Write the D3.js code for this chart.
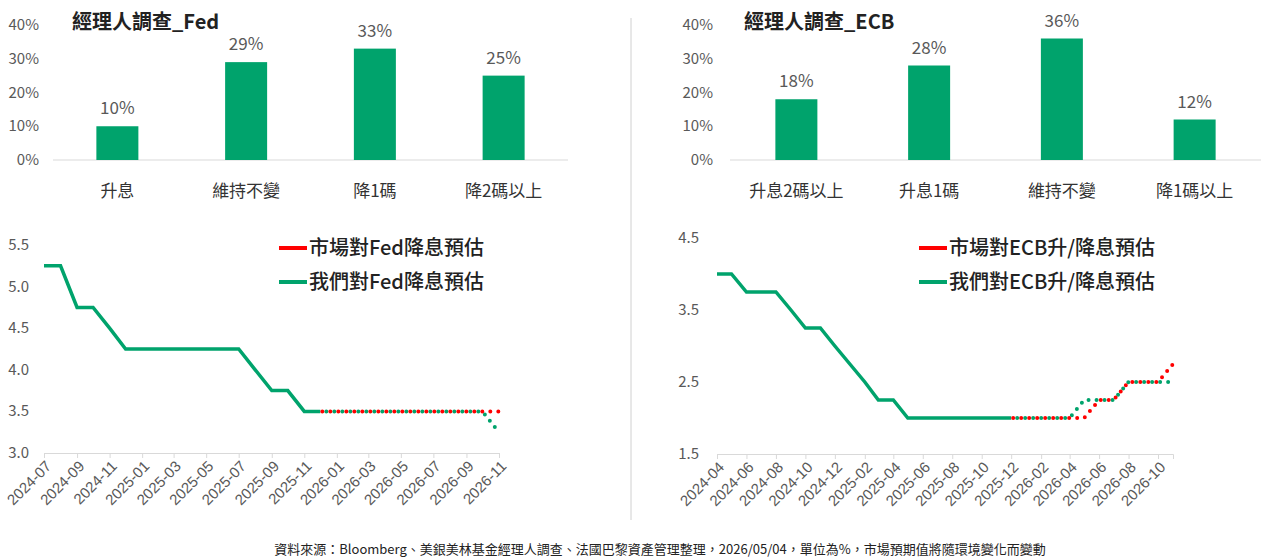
<!DOCTYPE html>
<html><head><meta charset="utf-8">
<script src="https://cdn.jsdelivr.net/npm/d3@7"></script>
<style>
body { margin: 0; background: #fff; font-family: "Noto Sans CJK TC", "Noto Sans", sans-serif; }
text { fill: #404040; }
</style></head>
<body><svg id="c" width="1264" height="559"></svg>
<script>
var fedCats = ['升息', '維持不變', '降1碼', '降2碼以上'];
var fedVals = [10, 29, 33, 25];
var ecbCats = ['升息2碼以上', '升息1碼', '維持不變', '降1碼以上'];
var ecbVals = [18, 28, 36, 12];
var pctTicks = [0, 10, 20, 30, 40];

var fedMonths = ['2024-07','2024-08','2024-09','2024-10','2024-11','2024-12','2025-01','2025-02','2025-03','2025-04','2025-05','2025-06','2025-07','2025-08','2025-09','2025-10','2025-11','2025-12'];
var fedActual = [5.25,5.25,4.75,4.75,4.5,4.25,4.25,4.25,4.25,4.25,4.25,4.25,4.25,4.0,3.75,3.75,3.5,3.5];
var fedFcMonths = ['2025-12','2026-01','2026-02','2026-03','2026-04','2026-05','2026-06','2026-07','2026-08','2026-09','2026-10','2026-11'];
var fedMarket = [3.5,3.5,3.5,3.5,3.5,3.5,3.5,3.5,3.5,3.5,3.5,3.5];
var fedOurs   = [3.5,3.5,3.5,3.5,3.5,3.5,3.5,3.5,3.5,3.5,3.5,3.25];
var fedTicks = [3.0, 3.5, 4.0, 4.5, 5.0, 5.5];

var ecbMonths = ['2024-04','2024-05','2024-06','2024-07','2024-08','2024-09','2024-10','2024-11','2024-12','2025-01','2025-02','2025-03','2025-04','2025-05','2025-06','2025-07','2025-08','2025-09','2025-10','2025-11','2025-12'];
var ecbActual = [4.0,4.0,3.75,3.75,3.75,3.5,3.25,3.25,3.0,2.75,2.5,2.25,2.25,2.0,2.0,2.0,2.0,2.0,2.0,2.0,2.0];
var ecbFcMonths = ['2025-12','2026-01','2026-02','2026-03','2026-04','2026-05','2026-06','2026-07','2026-08','2026-09','2026-10','2026-11'];
var ecbMarket = [2.0,2.0,2.0,2.0,2.0,2.0,2.25,2.25,2.5,2.5,2.5,2.75];
var ecbOurs   = [2.0,2.0,2.0,2.0,2.0,2.25,2.25,2.25,2.5,2.5,2.5,2.5];
var ecbTicks = [1.5, 2.5, 3.5, 4.5];

var GREEN = '#00a36c', RED = '#ff0000', GREY = '#595959';
var svg = d3.select('#c');
var parse = d3.timeParse('%Y-%m');

svg.append('line').attr('x1', 631).attr('x2', 631).attr('y1', 18).attr('y2', 520)
   .attr('stroke', '#d0d0d0');

function bars(cats, vals, title, x0, x1, labelX, titleX) {
    var x = d3.scaleBand().domain(cats).range([x0, x1]);
    var y = d3.scaleLinear().domain([0, 40]).range([160, 25]);
    var g = svg.append('g');
    g.append('text').attr('x', titleX).attr('y', 29).attr('font-size', 20)
     .attr('font-weight', 'bold').style('fill', '#222').text(title);
    g.selectAll('.t').data(pctTicks).enter().append('text')
     .attr('x', labelX).attr('y', function (d) { return y(d) + 5; })
     .attr('text-anchor', 'end').attr('font-size', 15).style('fill', GREY)
     .text(function (d) { return d + '%'; });
    g.append('line').attr('x1', x0).attr('x2', x1).attr('y1', y(0)).attr('y2', y(0))
     .attr('stroke', '#d9d9d9');
    g.selectAll('rect').data(vals).enter().append('rect')
     .attr('x', function (d, i) { return x(cats[i]) + x.bandwidth() / 2 - 21; })
     .attr('y', function (d) { return y(d); })
     .attr('width', 42).attr('height', function (d) { return y(0) - y(d); })
     .attr('fill', GREEN);
    g.selectAll('.v').data(vals).enter().append('text')
     .attr('x', function (d, i) { return x(cats[i]) + x.bandwidth() / 2; })
     .attr('y', function (d) { return y(d) - 12; })
     .attr('text-anchor', 'middle').attr('font-size', 17).style('fill', GREY)
     .text(function (d) { return d + '%'; });
    g.selectAll('.c').data(cats).enter().append('text')
     .attr('x', function (d) { return x(d) + x.bandwidth() / 2; })
     .attr('y', 197).attr('text-anchor', 'middle').attr('font-size', 17).style('fill', '#333')
     .text(function (d) { return d; });
}

bars(fedCats, fedVals, '經理人調查_Fed', 53, 568, 39, 72);
bars(ecbCats, ecbVals, '經理人調查_ECB', 730, 1261, 713, 744);

function lines(opt) {
    var x = d3.scaleTime().domain([parse(opt.start), parse(opt.end)]).range([opt.x0, opt.x1]);
    var y = d3.scaleLinear().domain(opt.ydom).range([opt.yb, opt.yt]);
    var g = svg.append('g');
    g.selectAll('.yt').data(opt.yticks).enter().append('text')
     .attr('x', opt.ylab).attr('y', function (d) { return y(d) + 5; })
     .attr('text-anchor', 'end').attr('font-size', 15).style('fill', GREY)
     .text(function (d) { return d.toFixed(1); });
    var tv = d3.timeMonth.range(parse(opt.start), d3.timeMonth.offset(parse(opt.end), 1), 2);
    var ax = g.append('g').attr('transform', 'translate(0,' + opt.yb + ')')
     .call(d3.axisBottom(x).tickValues(tv).tickSize(5).tickFormat(d3.timeFormat('%Y-%m')));
    ax.select('.domain').attr('stroke', '#d9d9d9');
    ax.selectAll('.tick line').attr('stroke', '#d9d9d9');
    ax.selectAll('text').attr('font-size', 15).style('fill', GREY)
      .attr('font-family', 'Liberation Sans, sans-serif')
      .attr('transform', 'rotate(-45)').attr('text-anchor', 'end').attr('dx', '-0.3em').attr('dy', '0.5em');

    var line = d3.line().x(function (d) { return x(parse(d[0])); }).y(function (d) { return y(d[1]); });
    g.append('path').datum(d3.zip(opt.months, opt.actual)).attr('d', line)
     .attr('fill', 'none').attr('stroke', GREEN).attr('stroke-width', 3.5);
    g.append('path').datum(d3.zip(opt.fcMonths, opt.ours)).attr('d', line)
     .attr('fill', 'none').attr('stroke', GREEN).attr('stroke-width', 4)
     .attr('stroke-linecap', 'round').attr('stroke-dasharray', '0 8').attr('stroke-dashoffset', -6);
    g.append('path').datum(d3.zip(opt.fcMonths, opt.market)).attr('d', line)
     .attr('fill', 'none').attr('stroke', RED).attr('stroke-width', 4)
     .attr('stroke-linecap', 'round').attr('stroke-dasharray', '0 8').attr('stroke-dashoffset', -2);

    var leg = [[opt.legend[0], RED], [opt.legend[1], GREEN]];
    leg.forEach(function (l, i) {
        var ly = 248 + i * 34;
        g.append('line').attr('x1', opt.lx).attr('x2', opt.lx + 28).attr('y1', ly).attr('y2', ly)
         .attr('stroke', l[1]).attr('stroke-width', 4);
        g.append('text').attr('x', opt.lx + 30).attr('y', ly + 7).attr('font-size', 20)
         .attr('font-weight', 500).style('fill', '#222').text(l[0]);
    });
}

lines({start: '2024-07', end: '2026-11', x0: 44, x1: 499, yb: 453, yt: 245, ydom: [3.0, 5.5],
       yticks: fedTicks, ylab: 29, months: fedMonths, actual: fedActual, fcMonths: fedFcMonths,
       market: fedMarket, ours: fedOurs, lx: 279, legend: ['市場對Fed降息預估', '我們對Fed降息預估']});
lines({start: '2024-04', end: '2026-11', x0: 717, x1: 1173, yb: 454, yt: 238, ydom: [1.5, 4.5],
       yticks: ecbTicks, ylab: 699, months: ecbMonths, actual: ecbActual, fcMonths: ecbFcMonths,
       market: ecbMarket, ours: ecbOurs, lx: 919, legend: ['市場對ECB升/降息預估', '我們對ECB升/降息預估']});

svg.append('text').attr('x', 660).attr('y', 554).attr('text-anchor', 'middle').attr('font-size', 13)
   .style('fill', '#222')
   .text('資料來源：Bloomberg、美銀美林基金經理人調查、法國巴黎資產管理整理，2026/05/04，單位為%，市場預期值將隨環境變化而變動');
</script></body></html>
